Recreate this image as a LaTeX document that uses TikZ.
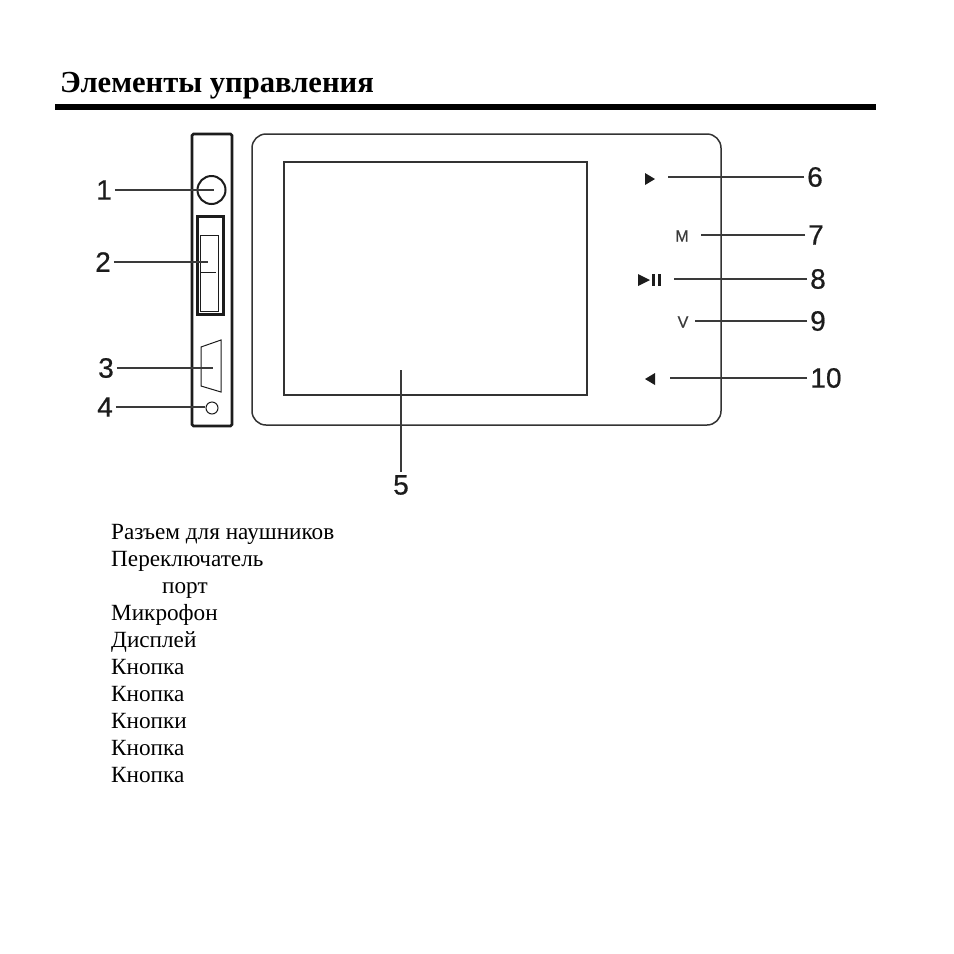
\documentclass[tikz,border=0pt]{standalone}
\usepackage{fontspec}
\setmainfont{Liberation Serif}
\setsansfont{Liberation Sans}[FakeBold=0.6]
\usetikzlibrary{positioning}
\definecolor{cline}{HTML}{3A3A3A}
\definecolor{cbody}{HTML}{1C1C1C}
\definecolor{cfront}{HTML}{333333}
\tikzset{
  every picture/.style={x=1pt, y=-1pt},
  leader/.style={draw=cline, line width=1.1pt},
  part/.style={draw=cbody, line width=1.3pt},
  num/.style={font=\sffamily\fontsize{28}{28}\selectfont, text=cbody, inner sep=3pt},
  btn/.style={font=\sffamily\fontsize{16}{16}\selectfont, text=cline, inner sep=0pt},
  item/.style={font=\rmfamily\fontsize{23.2}{23.2}\selectfont, anchor=base west, inner sep=0pt},
}

\begin{document}
\begin{tikzpicture}
  \useasboundingbox[fill=white] (0,0) rectangle (954,954);
  % heading
  \node[font=\rmfamily\bfseries\fontsize{30.6}{30.6}\selectfont, anchor=base west, inner sep=0pt] (title) at (60,92) {Элементы управления};
  \fill (55,104) rectangle (876,110);
  % side view
  \draw[part, line width=2.6pt, rounded corners=1.5pt] (192,134) rectangle (232,426);
  \draw[part, line width=2pt] (211.5,190) circle (14);
  \draw[part, line width=3pt] (197,216) rectangle (223,314);
  \draw[part, line width=1pt] (200,235) rectangle (218,311);
  \draw[part, line width=1pt] (200,272) -- (216,272);
  \draw[part, line width=1pt] (201,347) -- (221,340) -- (221,392) -- (201,386) -- cycle;
  \draw[part, line width=1pt] (212,408) circle (6);
  % front view
  \draw[draw=cfront, line width=1.5pt, rounded corners=14pt] (252,134) rectangle (721,425);
  \draw[draw=cfront, line width=1.5pt] (284,162) rectangle (587,395);
  % buttons
  \fill[cbody] (645,173) -- (655,179) -- (645,185) -- cycle;
  \node[btn] (bm) at (682,236) {M};
  \fill[cbody] (638,274) -- (650,280) -- (638,286) -- cycle;
  \fill[cbody] (652,274) rectangle (654.5,286);
  \fill[cbody] (658,274) rectangle (660.5,286);
  \node[btn] (bv) at (683,322) {V};
  \fill[cbody] (655,373) -- (645,379) -- (655,385) -- cycle;
  % numbers and their lines
  \node[num] (n1) at (104,190) {1};
  \node[num] (n2) at (103,262) {2};
  \node[num] (n3) at (106,368) {3};
  \node[num] (n4) at (105,407) {4};
  \node[num] (n5) at (401,485) {5};
  \node[num] (n6) at (815,177) {6};
  \node[num] (n7) at (816,235) {7};
  \node[num] (n8) at (818,279) {8};
  \node[num] (n9) at (818,321) {9};
  \node[num] (n10) at (826,378) {10};
  \coordinate (e1) at (214,190);
  \coordinate (e2) at (208,262);
  \coordinate (e3) at (213,368);
  \coordinate (e4) at (205,407);
  \coordinate (e5) at (401,370);
  \coordinate (e6) at (668,177);
  \coordinate (e7) at (701,235);
  \coordinate (e8) at (674,279);
  \coordinate (e9) at (695,321);
  \coordinate (e10) at (670,378);
  \draw[leader] (n1) -- (e1);
  \draw[leader] (n2) -- (e2);
  \draw[leader] (n3) -- (e3);
  \draw[leader] (n4) -- (e4);
  \draw[leader] (n5) -- (e5);
  \draw[leader] (n6) -- (e6);
  \draw[leader] (n7) -- (e7);
  \draw[leader] (n8) -- (e8);
  \draw[leader] (n9) -- (e9);
  \draw[leader] (n10) -- (e10);
  % list of parts
  \node[item] (t1) at (111,539) {Разъем для наушников};
  \node[item] (t2) at (111,566) {Переключатель};
  \node[item] (t3) at (162,593) {порт};
  \node[item] (t4) at (111,620) {Микрофон};
  \node[item] (t5) at (111,647) {Дисплей};
  \node[item] (t6) at (111,674) {Кнопка};
  \node[item] (t7) at (111,701) {Кнопка};
  \node[item] (t8) at (111,728) {Кнопки};
  \node[item] (t9) at (111,755) {Кнопка};
  \node[item] (t10) at (111,782) {Кнопка};
\end{tikzpicture}
\end{document}
